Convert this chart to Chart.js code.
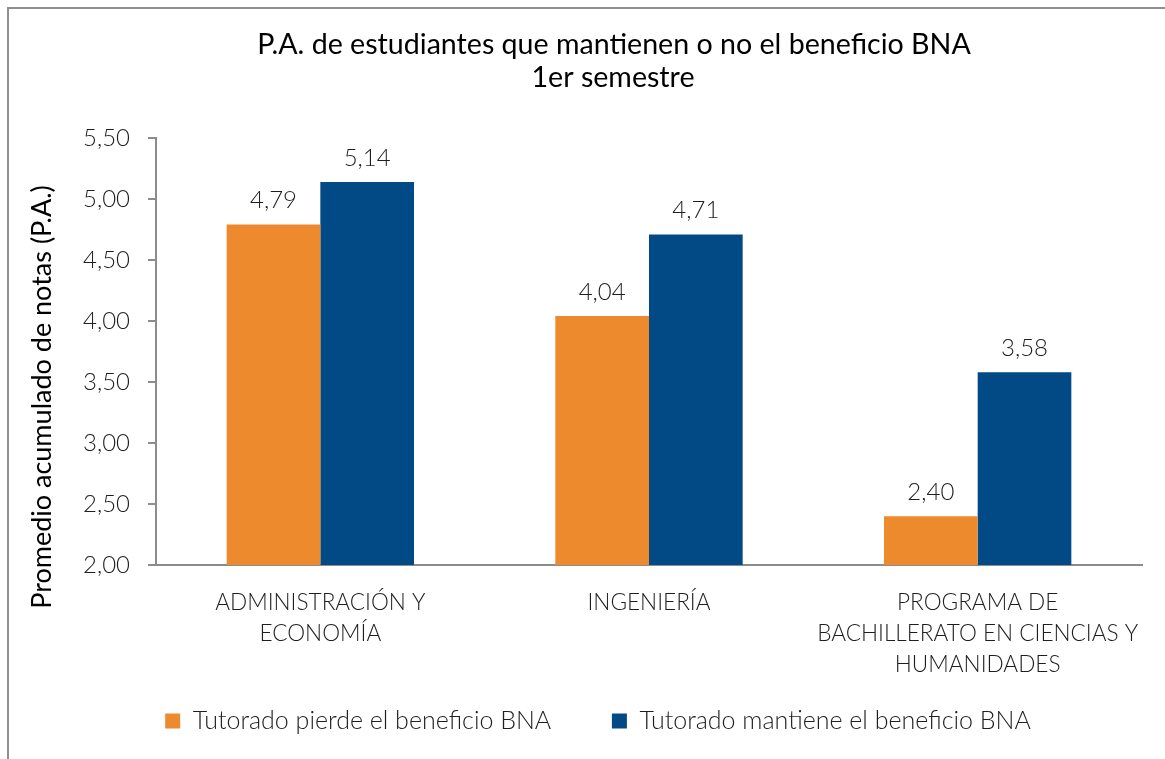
<!DOCTYPE html>
<html>
<head>
<meta charset="utf-8">
<script src="https://cdn.jsdelivr.net/npm/chart.js@4/dist/chart.umd.min.js"></script>
<style>
  html, body { margin: 0; padding: 0; background: #fff; overflow: hidden; }
  #frame { position: absolute; left: 7px; top: 7px; width: 2000px; height: 2000px; border: 2px solid #8f8f8f; box-sizing: border-box; }
  #wrap { position: absolute; left: 0; top: 0; width: 1165px; height: 759px; }
</style>
</head>
<body>
<div id="frame"></div>
<div id="wrap"><canvas id="c" width="1165" height="759"></canvas></div>
<script>
const titleLines = ["P.A. de estudiantes que mantienen o no el beneficio BNA", "1er semestre"];
const yAxisTitle = "Promedio acumulado de notas (P.A.)";
const categories = [["ADMINISTRACIÓN Y", "ECONOMÍA"], ["INGENIERÍA"], ["PROGRAMA DE", "BACHILLERATO EN CIENCIAS Y", "HUMANIDADES"]];
const seriesNames = ["Tutorado pierde el beneficio BNA", "Tutorado mantiene el beneficio BNA"];
const pierdeValues = [4.79, 4.04, 2.40];
const mantieneValues = [5.14, 4.71, 3.58];
const yMin = 2.0, yMax = 5.5, yStep = 0.5;

const ORANGE = "#EE8A2E";
const BLUE = "#024A85";
const TEXT = "#1e1e1e";
const AXIS = "#8c8c8c";
const LIGHT = "Lato";
const LEGEND_GAP = "       \u2009";

const fmt = v => Number(v).toFixed(2).replace(".", ",");

const overlayPlugin = {
  id: "overlay",
  afterDatasetsDraw(chart) {
    const ctx = chart.ctx;
    ctx.save();
    ctx.fillStyle = TEXT;
    ctx.textAlign = "center";
    ctx.textBaseline = "middle";
    ctx.font = "300 24px " + LIGHT;
    chart.data.datasets.forEach((ds, i) => {
      const meta = chart.getDatasetMeta(i);
      meta.data.forEach((el, j) => {
        ctx.fillText(fmt(ds.data[j]), el.x, el.y - 24);
      });
    });
    ctx.restore();
  },
  afterDraw(chart) {
    const ctx = chart.ctx;
    ctx.save();
    ctx.fillStyle = "#000";
    ctx.textAlign = "center";
    ctx.textBaseline = "middle";
    ctx.font = "400 28.6px Lato";
    ctx.fillText(titleLines[0], 614, 45);
    ctx.fillText(titleLines[1], 613, 78);
    ctx.translate(42, 397);
    ctx.rotate(-Math.PI / 2);
    ctx.font = "400 27px Lato";
    ctx.fillText(yAxisTitle, 0, 0);
    ctx.restore();
  }
};

new Chart(document.getElementById("c"), {
  type: "bar",
  data: {
    labels: categories,
    datasets: [
      { label: seriesNames[0], data: pierdeValues, backgroundColor: ORANGE, borderWidth: 0 },
      { label: seriesNames[1], data: mantieneValues, backgroundColor: BLUE, borderWidth: 0 }
    ]
  },
  options: {
    responsive: false,
    animation: false,
    devicePixelRatio: 1,
    layout: { padding: { top: 138, left: 54, right: 23, bottom: 15.5 } },
    datasets: { bar: { categoryPercentage: 0.57, barPercentage: 1.0 } },
    plugins: {
      title: { display: false },
      tooltip: { enabled: false },
      legend: {
        position: "bottom",
        labels: {
          boxWidth: 15, boxHeight: 15, padding: 10,
          color: TEXT,
          font: { family: LIGHT, size: 25, weight: "300" },
          generateLabels(chart) {
            const items = Chart.defaults.plugins.legend.labels.generateLabels(chart);
            items.forEach((it, i) => { if (i < items.length - 1) it.text = it.text + LEGEND_GAP; });
            return items;
          }
        }
      }
    },
    scales: {
      x: {
        grid: { display: false, drawTicks: false },
        border: { display: true, color: AXIS, width: 2 },
        ticks: {
          padding: 22, color: TEXT, maxRotation: 0, autoSkip: false,
          font: { family: LIGHT, size: 22.6, weight: "300", lineHeight: 1.37 }
        },
        afterFit(scale) { scale.height = 133.5; }
      },
      y: {
        min: yMin, max: yMax,
        grid: { drawOnChartArea: false, drawTicks: true, tickLength: 8, color: AXIS, lineWidth: 2 },
        border: { display: true, color: AXIS, width: 2 },
        ticks: {
          stepSize: yStep, padding: 18, color: TEXT,
          font: { family: LIGHT, size: 24, weight: "300" },
          callback: v => fmt(v)
        },
        afterFit(scale) { scale.width = 102; }
      }
    }
  },
  plugins: [overlayPlugin]
});
</script>
</body>
</html>
